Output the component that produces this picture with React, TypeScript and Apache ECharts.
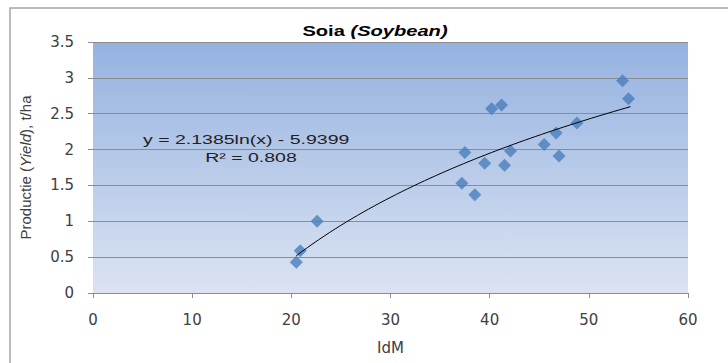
import React, { useEffect, useRef } from "react";
import * as echarts from "echarts";

const idm: number[] = [20.5, 20.9, 22.6, 37.2, 37.5, 38.5, 39.5, 40.2, 41.2, 41.5, 42.1, 45.5, 46.7, 47.0, 48.8, 53.4, 54.0];
const yieldT: number[] = [0.43, 0.59, 1.0, 1.53, 1.96, 1.37, 1.81, 2.57, 2.62, 1.78, 1.98, 2.07, 2.23, 1.91, 2.37, 2.96, 2.71];

// Logarithmic trend line as printed on the chart: y = a ln(x) + b
const trendA = 2.1385;
const trendB = -5.9399;
const trendFrom = 20.5;
const trendTo = 54.2;
const trendSteps = 60;

const xTicks = [0, 10, 20, 30, 40, 50, 60];
const yTicks = [0, 0.5, 1, 1.5, 2, 2.5, 3, 3.5];

const titleMain = "Soia ";
const titleItalic = "(Soybean)";
const equationText = "y = 2.1385ln(x) - 5.9399";
const r2Text = "R² = 0.808";

export default function App() {
  const ref = useRef<HTMLDivElement>(null);
  useEffect(() => {
    if (!ref.current) return;
    const chart = echarts.init(ref.current, null, { renderer: "svg" });
    const points = idm.map((x, i) => [x, yieldT[i]]);
    const trend: number[][] = [];
    for (let i = 0; i <= trendSteps; i++) {
      const x = trendFrom + ((trendTo - trendFrom) * i) / trendSteps;
      trend.push([x, trendA * Math.log(x) + trendB]);
    }
    const font = "'Liberation Sans', Arial, sans-serif";
    const wide = "'DejaVu Sans', sans-serif";
    chart.setOption({
      animation: false,
      textStyle: { fontFamily: font },
      grid: {
        left: 93,
        right: 40,
        top: 42,
        bottom: 70,
        show: true,
        borderWidth: 0,
        backgroundColor: new echarts.graphic.LinearGradient(0, 0, 0, 1, [
          { offset: 0, color: "#95b2e0" },
          { offset: 1, color: "#dbe3f2" },
        ]),
      },
      xAxis: {
        type: "value",
        min: xTicks[0],
        max: xTicks[xTicks.length - 1],
        interval: 10,
        name: "IdM",
        nameLocation: "middle",
        nameGap: 47,
        nameTextStyle: { fontSize: 15, color: "#404040", fontFamily: wide },
        axisLine: { show: true, lineStyle: { color: "#8c8c8c" } },
        axisTick: { show: true, length: 5, lineStyle: { color: "#8c8c8c" } },
        axisLabel: { fontSize: 15, color: "#404040", margin: 19, fontFamily: wide },
        splitLine: { show: false },
      },
      yAxis: {
        type: "value",
        min: yTicks[0],
        max: yTicks[yTicks.length - 1],
        interval: 0.5,
        name: "{n|Productie (}{i|Yield}{n|), t/ha}",
        nameLocation: "middle",
        nameGap: 60,
        nameTextStyle: {
          rich: {
            n: { fontSize: 15, color: "#404040", fontFamily: font },
            i: { fontSize: 15, color: "#404040", fontStyle: "italic", fontFamily: font },
          },
        },
        axisLine: { show: false },
        axisTick: { show: true, length: 5, lineStyle: { color: "#8c8c8c" } },
        axisLabel: { fontSize: 15, color: "#404040", margin: 19, fontFamily: wide },
        splitLine: { show: true, lineStyle: { color: "#8c8c8c", width: 1 } },
      },
      graphic: [
        {
          type: "rect",
          shape: { x: 10, y: 8, width: 740, height: 400 },
          style: { fill: "none", stroke: "#a6a6a6", lineWidth: 1.5 },
          silent: true,
          z: -10,
        },
        {
          type: "text",
          x: 375,
          y: 31,
          scaleX: 1.34,
          style: {
            text: "{b|" + titleMain + "}{i|" + titleItalic + "}",
            align: "center",
            verticalAlign: "middle",
            rich: {
              b: { fontSize: 15, fontWeight: "bold", fill: "#000", fontFamily: font },
              i: { fontSize: 15, fontWeight: "bold", fontStyle: "italic", fill: "#000", fontFamily: font },
            },
          },
          z: 100,
        },
        {
          type: "text",
          x: 143,
          y: 140,
          scaleX: 1.5,
          style: {
            text: equationText,
            fontSize: 13,
            fill: "#222",
            fontFamily: font,
            verticalAlign: "middle",
          },
          z: 100,
        },
        {
          type: "text",
          x: 251,
          y: 158,
          scaleX: 1.5,
          style: {
            text: r2Text,
            fontSize: 13,
            fill: "#222",
            fontFamily: font,
            align: "center",
            verticalAlign: "middle",
          },
          z: 100,
        },
      ],
      series: [
        {
          type: "scatter",
          data: points,
          symbol: "diamond",
          symbolSize: 13,
          itemStyle: { color: "#4a7ebb" },
          z: 3,
        },
        {
          type: "line",
          data: trend,
          showSymbol: false,
          smooth: false,
          lineStyle: { color: "#000", width: 1 },
          z: 4,
        },
      ],
    });
    return () => chart.dispose();
  }, []);
  return (
    <div
      ref={ref}
      style={{ position: "fixed", left: 0, top: 0, width: 728, height: 363, background: "#fff" }}
    />
  );
}
